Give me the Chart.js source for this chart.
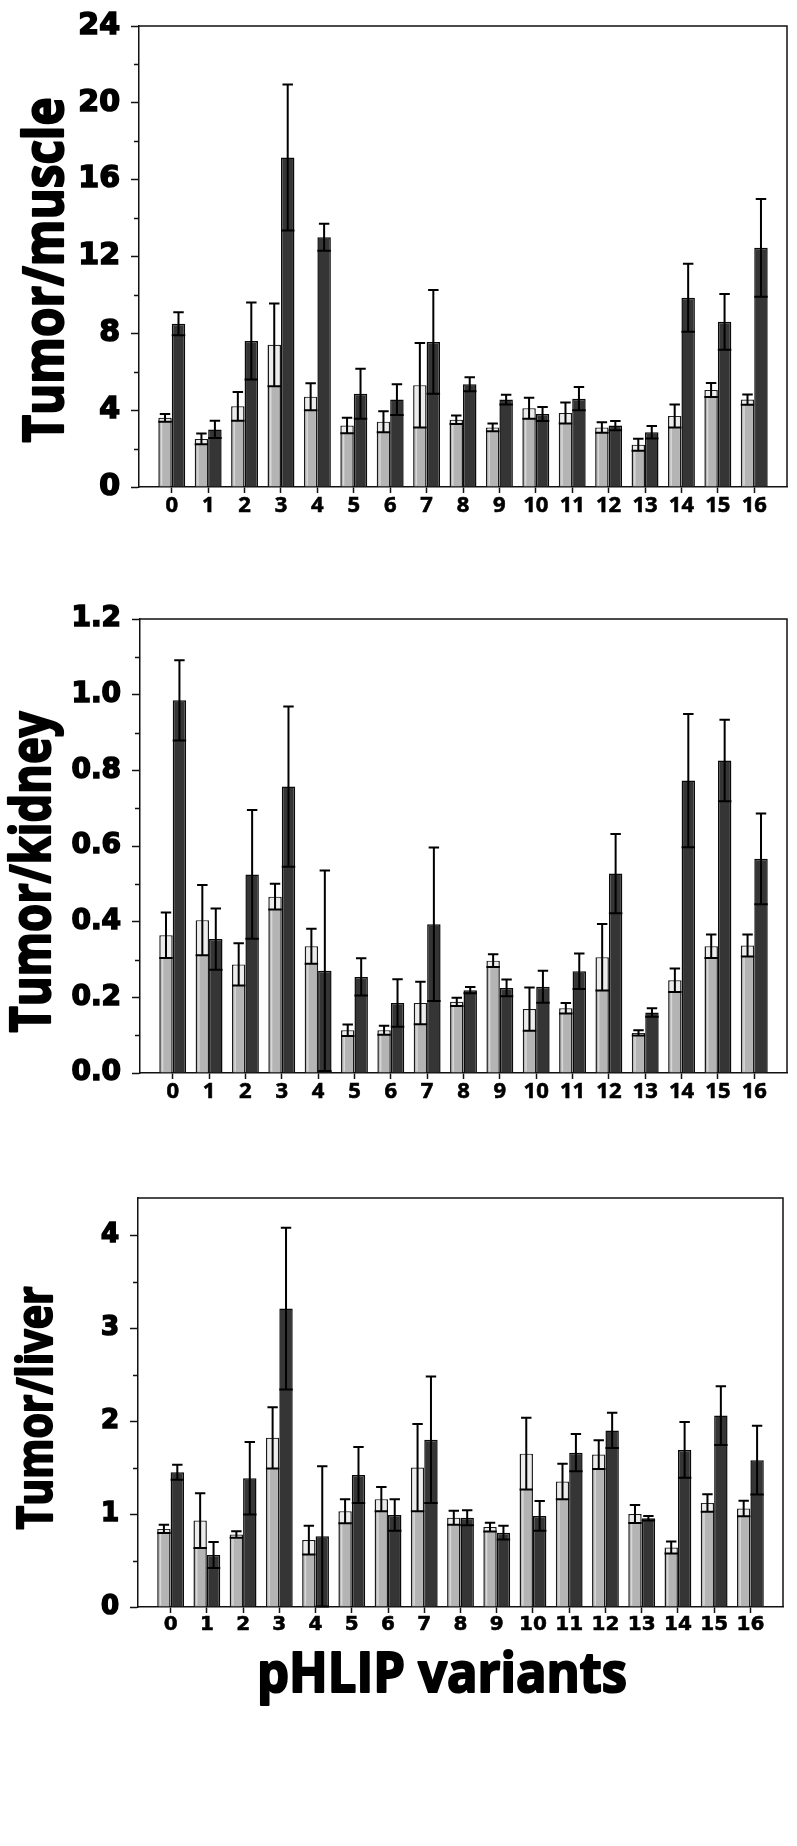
<!DOCTYPE html>
<html>
<head>
<meta charset="utf-8">
<title>Tumor ratios of pHLIP variants</title>
<script src="https://cdn.jsdelivr.net/npm/chart.js@4.4.0/dist/chart.umd.min.js"></script>
<style>
  body { margin: 0; background: #fff; }
  .wrap { position: relative; width: 797px; height: 1846px; }
  canvas { position: absolute; left: 0; }
</style>
</head>
<body>
<div class="wrap">
  <canvas id="muscle" width="797" height="545" style="top:0px"></canvas>
  <canvas id="kidney" width="797" height="570" style="top:560px"></canvas>
  <canvas id="liver" width="797" height="686" style="top:1160px"></canvas>
</div>
<script>
// pHLIP variant numbers (x axis)
var categories = ['0','1','2','3','4','5','6','7','8','9','10','11','12','13','14','15','16'];

// Tumor/muscle
var muscleLight    = [3.6, 2.5, 4.2, 7.4, 4.7, 3.2, 3.4, 5.3, 3.5, 3.1, 4.1, 3.85, 3.1, 2.2, 3.7, 5.05, 4.55];
var muscleLightErr = [0.2, 0.28, 0.75, 2.15, 0.7, 0.4, 0.55, 2.2, 0.22, 0.2, 0.55, 0.55, 0.27, 0.31, 0.6, 0.37, 0.27];
var muscleDark     = [8.5, 3.0, 7.6, 17.15, 13.0, 4.85, 4.55, 7.55, 5.35, 4.55, 3.8, 4.6, 3.2, 2.85, 9.85, 8.6, 12.45];
var muscleDarkErr  = [0.6, 0.45, 2.0, 3.8, 0.7, 1.3, 0.8, 2.7, 0.37, 0.25, 0.37, 0.6, 0.24, 0.32, 1.77, 1.45, 2.55];

// Tumor/kidney
var kidneyLight    = [0.364, 0.404, 0.287, 0.466, 0.335, 0.113, 0.113, 0.185, 0.188, 0.297, 0.169, 0.171, 0.306, 0.106, 0.245, 0.335, 0.337];
var kidneyLightErr = [0.06, 0.093, 0.056, 0.034, 0.046, 0.015, 0.012, 0.056, 0.011, 0.017, 0.057, 0.014, 0.088, 0.007, 0.031, 0.031, 0.029];
var kidneyDark     = [0.985, 0.354, 0.525, 0.757, 0.27, 0.254, 0.185, 0.393, 0.219, 0.225, 0.228, 0.269, 0.527, 0.16, 0.773, 0.826, 0.566];
var kidneyDarkErr  = [0.106, 0.081, 0.17, 0.212, 0.265, 0.049, 0.063, 0.203, 0.008, 0.022, 0.042, 0.047, 0.105, 0.011, 0.176, 0.108, 0.12];

// Tumor/liver
var liverLight    = [0.84, 0.93, 0.78, 1.82, 0.72, 1.03, 1.16, 1.5, 0.96, 0.86, 1.65, 1.35, 1.64, 1.0, 0.64, 1.12, 1.06];
var liverLightErr = [0.045, 0.295, 0.036, 0.33, 0.155, 0.13, 0.13, 0.47, 0.075, 0.047, 0.385, 0.19, 0.155, 0.097, 0.065, 0.094, 0.083];
var liverDark     = [1.45, 0.56, 1.385, 3.21, 0.76, 1.42, 0.99, 1.8, 0.96, 0.8, 0.98, 1.66, 1.9, 0.955, 1.69, 2.06, 1.58];
var liverDarkErr  = [0.08, 0.14, 0.39, 0.87, 0.755, 0.3, 0.17, 0.68, 0.08, 0.075, 0.16, 0.2, 0.19, 0.025, 0.3, 0.316, 0.37];

// y ticks (labelled) and minor ticks
var muscleTicks = [0, 4, 8, 12, 16, 20, 24];
var muscleMinor = [2, 6, 10, 14, 18, 22];
var kidneyTicks = [0, 0.2, 0.4, 0.6, 0.8, 1.0, 1.2];
var kidneyMinor = [0.1, 0.3, 0.5, 0.7, 0.9, 1.1];
var liverTicks  = [0, 1, 2, 3, 4];
var liverMinor  = [0.5, 1.5, 2.5, 3.5];

// error bars drawn through the y scale
var errorBars = {
  id: 'errorBars',
  afterDatasetsDraw: function(chart, args, opts) {
    var ctx = chart.ctx, y = chart.scales.y;
    chart.data.datasets.forEach(function(ds, d) {
      var meta = chart.getDatasetMeta(d);
      var errs = opts.errors[d];
      meta.data.forEach(function(bar, i) {
        var p = bar.getProps(['x', 'y', 'width', 'base'], true);
        var v = ds.data[i].y, e = errs[i];
        var top = y.getPixelForValue(v + e), bot = y.getPixelForValue(v - e);
        var half = p.width / 2;
        ctx.save();
        if (d === 0) {
          // pale streak inside the light bars
          ctx.fillStyle = '#d8d8d8';
          ctx.fillRect(p.x - half + 2.5, bot, 1.5, p.base - bot - 1);
          ctx.fillStyle = '#ececec';
          ctx.fillRect(p.x - half + 1.5, p.y + 1, p.width - 3, bot - p.y - 1);
        }
        ctx.strokeStyle = '#000';
        ctx.lineWidth = 2;
        ctx.beginPath();
        ctx.moveTo(p.x, top); ctx.lineTo(p.x, bot);
        ctx.moveTo(p.x - half + 1.5, top); ctx.lineTo(p.x + half - 1.5, top);
        ctx.moveTo(p.x - half, bot); ctx.lineTo(p.x + half, bot);
        ctx.stroke();
        ctx.restore();
      });
    });
  }
};

// box frame, minor ticks and the big axis titles
var panelDecor = {
  id: 'panelDecor',
  afterDraw: function(chart, args, opts) {
    var ctx = chart.ctx, a = chart.chartArea, y = chart.scales.y;
    ctx.save();
    ctx.strokeStyle = '#111';
    ctx.lineWidth = 1.5;
    ctx.beginPath();
    ctx.moveTo(a.left, a.top); ctx.lineTo(a.right, a.top); ctx.lineTo(a.right, a.bottom);
    opts.minor.forEach(function(v) {
      var py = Math.round(y.getPixelForValue(v)) + 0.5;
      ctx.moveTo(a.left - 5, py); ctx.lineTo(a.left, py);
    });
    ctx.stroke();
    opts.titles.forEach(function(t) {
      ctx.save();
      ctx.font = 'bold ' + t.size + 'px "Open Sans"';
      ctx.fillStyle = '#000';
      ctx.strokeStyle = '#000';
      ctx.lineWidth = 2.2;
      ctx.lineJoin = 'round';
      ctx.textAlign = 'center';
      ctx.textBaseline = 'alphabetic';
      ctx.translate(t.x, t.y);
      if (t.vertical) ctx.rotate(-Math.PI / 2);
      var w = ctx.measureText(t.text).width;
      ctx.scale(t.length / w, 1);
      ctx.fillText(t.text, 0, 0);
      ctx.strokeText(t.text, 0, 0);
      ctx.restore();
    });
    ctx.restore();
  }
};

function makePanel(id, p) {
  new Chart(document.getElementById(id), {
    type: 'bar',
    data: {
      datasets: [{
        data: categories.map(function(c, i) { return {x: i, y: p.light[i]}; }),
        backgroundColor: '#b4b4b4',
        borderColor: '#1a1a1a',
        borderWidth: 1.5
      }, {
        data: categories.map(function(c, i) { return {x: i, y: p.dark[i]}; }),
        backgroundColor: '#353535',
        borderColor: '#0a0a0a',
        borderWidth: 1.5
      }]
    },
    options: {
      responsive: false,
      animation: false,
      layout: { padding: p.padding },
      datasets: { bar: { categoryPercentage: 0.74, barPercentage: 1 } },
      plugins: {
        legend: { display: false },
        tooltip: { enabled: false },
        errorBars: { errors: [p.lightErr, p.darkErr] },
        panelDecor: { minor: p.minor, titles: p.titles }
      },
      scales: {
        x: {
          type: 'linear', min: -0.9, max: 16.9, offset: false,
          afterBuildTicks: function(s) { s.ticks = categories.map(function(c, i) { return {value: i}; }); },
          afterFit: function(s) { s.height = p.xHeight; },
          ticks: {
            callback: function(v, i) { return categories[i]; },
            font: p.xFont, color: '#000', padding: 2, maxRotation: 0, autoSkip: false,
            textStrokeColor: '#000', textStrokeWidth: 0.6
          },
          grid: { offset: false, drawOnChartArea: false, tickLength: 6, tickColor: '#111', tickWidth: 1.5 },
          border: { color: '#111', width: 1.5 }
        },
        y: {
          min: 0, max: p.max,
          afterBuildTicks: function(s) { s.ticks = p.ticks.map(function(v) { return {value: v}; }); },
          afterFit: function(s) { s.width = p.yWidth; },
          ticks: {
            callback: p.fmt,
            font: p.yFont, color: '#000', padding: 11,
            textStrokeColor: '#000', textStrokeWidth: 1.6
          },
          grid: { drawOnChartArea: false, tickLength: 8, tickColor: '#111', tickWidth: 1.5 },
          border: { color: '#111', width: 1.5 }
        }
      }
    },
    plugins: [errorBars, panelDecor]
  });
}

var openX = { family: 'Open Sans', weight: 'bold', size: 22, lineHeight: 1 };

makePanel('muscle', {
  light: muscleLight, lightErr: muscleLightErr, dark: muscleDark, darkErr: muscleDarkErr,
  max: 24, ticks: muscleTicks, minor: muscleMinor,
  fmt: function(v) { return String(v); },
  padding: { top: 17, right: 10, left: 0, bottom: 0 },
  yWidth: 139, xHeight: 58,
  yFont: { family: 'DejaVu Sans', weight: 'bold', size: 30, lineHeight: 1 },
  xFont: openX,
  titles: [{ text: 'Tumor/muscle', vertical: true, x: 63, y: 270, size: 56, length: 345 }]
});

makePanel('kidney', {
  light: kidneyLight, lightErr: kidneyLightErr, dark: kidneyDark, darkErr: kidneyDarkErr,
  max: 1.2, ticks: kidneyTicks, minor: kidneyMinor,
  fmt: function(v) { return v.toFixed(1); },
  padding: { top: 59, right: 10, left: 0, bottom: 0 },
  yWidth: 140, xHeight: 57,
  yFont: { family: 'DejaVu Sans', weight: 'bold', size: 28, lineHeight: 1 },
  xFont: openX,
  titles: [{ text: 'Tumor/kidney', vertical: true, x: 50, y: 312, size: 56, length: 321 }]
});

makePanel('liver', {
  light: liverLight, lightErr: liverLightErr, dark: liverDark, darkErr: liverDarkErr,
  max: 4.4, ticks: liverTicks, minor: liverMinor,
  fmt: function(v) { return String(v); },
  padding: { top: 38, right: 14, left: 0, bottom: 0 },
  yWidth: 138, xHeight: 239,
  yFont: { family: 'DejaVu Sans', weight: 'bold', size: 26, lineHeight: 1 },
  xFont: { family: 'DejaVu Sans', weight: 'bold', size: 20, lineHeight: 1 },
  titles: [
    { text: 'Tumor/liver', vertical: true, x: 52, y: 248, size: 48, length: 243 },
    { text: 'pHLIP variants', vertical: false, x: 442, y: 532, size: 56, length: 370 }
  ]
});
</script>
</body>
</html>
